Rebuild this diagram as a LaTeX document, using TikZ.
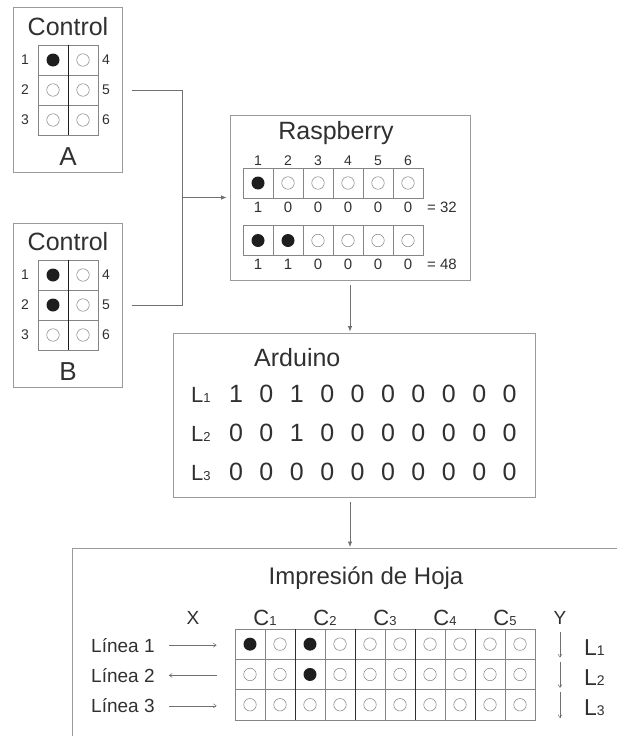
\documentclass[tikz,border=0pt]{standalone}
\usepackage{fontspec}
\setmainfont{Liberation Sans}
\usepackage{xcolor}
\usepackage{tikz}
\usetikzlibrary{arrows.meta}

\definecolor{txtgray}{HTML}{303030}
\definecolor{boxgray}{HTML}{9A9A9A}
\definecolor{gridgray}{HTML}{858585}
\definecolor{wiregray}{HTML}{707070}
\definecolor{dotblack}{HTML}{1E1E1E}
\newcommand{\fsz}[1]{\fontsize{#1}{#1}\selectfont}

\begin{document}
\begin{tikzpicture}[x=1pt, y=-1pt,
    panel/.style={draw=boxgray, line width=0.8pt, inner sep=0pt},
    cellbox/.style={draw=gridgray, line width=0.6pt, minimum size=30pt, inner sep=0pt},
    doton/.style={circle, fill=dotblack, inner sep=0pt, minimum size=13pt},
    dotoff/.style={circle, draw=gridgray, line width=0.55pt, inner sep=0pt, minimum size=12.5pt},
    txt/.style={text=txtgray, inner sep=0pt},
    title/.style={txt, font=\fsz{25}},
    wire/.style={draw=wiregray, line width=0.8pt},
    flow/.style={wire, -{Latex[length=5.5pt, width=4.5pt]}},
    thinarr/.style={draw=wiregray, line width=0.5pt, -{Straight Barb[length=3pt, width=4pt]}},
    darkline/.style={draw=dotblack, line width=0.7pt}]
  \useasboundingbox (0,0) rectangle (617,736);

  % Control A
  \node[panel, minimum width=109pt, minimum height=165pt] (ctrlA) at (67.5,89.5) {};
  \node[title] (titA) at (68,27) {Control};
  \foreach \r in {1,2,3}
    \foreach \c in {1,2}
      \node[cellbox] (a-\r-\c) at ({23+30*\c},{30+30*\r}) {};
  \draw[darkline] (a-1-1.north east) -- (a-3-1.south east);
  \foreach \r/\n/\m in {1/1/4, 2/2/5, 3/3/6} {
    \node[txt, font=\fsz{14}] (a\n) at (25,{30+30*\r}) {\n};
    \node[txt, font=\fsz{14}] (a\m) at (106,{30+30*\r}) {\m};
  }
  \node[doton] at (a-1-1) {};
  \foreach \p in {a-1-2, a-2-1, a-2-2, a-3-1, a-3-2}
    \node[dotoff] at (\p) {};
  \node[title, font=\fsz{26}] (letA) at (68,157) {A};

  % Control B
  \node[panel, minimum width=109pt, minimum height=164pt] (ctrlB) at (67.5,305) {};
  \node[title] (titB) at (68,242) {Control};
  \foreach \r in {1,2,3}
    \foreach \c in {1,2}
      \node[cellbox] (b-\r-\c) at ({23+30*\c},{245+30*\r}) {};
  \draw[darkline] (b-1-1.north east) -- (b-3-1.south east);
  \foreach \r/\n/\m in {1/1/4, 2/2/5, 3/3/6} {
    \node[txt, font=\fsz{14}] (b\n) at (25,{245+30*\r}) {\n};
    \node[txt, font=\fsz{14}] (b\m) at (106,{245+30*\r}) {\m};
  }
  \foreach \p in {b-1-1, b-2-1}
    \node[doton] at (\p) {};
  \foreach \p in {b-1-2, b-2-2, b-3-1, b-3-2}
    \node[dotoff] at (\p) {};
  \node[title, font=\fsz{26}] (letB) at (68,372) {B};

  % Raspberry
  \node[panel, minimum width=240pt, minimum height=165pt] (rasp) at (350,197.5) {};
  \node[title] (titR) at (336,133) {Raspberry};
  \foreach \c in {1,...,6}
    \node[txt, font=\fsz{14}] (rn\c) at ({228+30*\c},161) {\c};
  \foreach \bits/\ry/\sum [count=\r] in {{1,0,0,0,0,0}/183/32, {1,1,0,0,0,0}/240.5/48} {
    \foreach \b [count=\c] in \bits {
      \node[cellbox] (r-\r-\c) at ({228+30*\c},\ry) {};
      \ifnum\b=1 \node[doton] at (r-\r-\c) {}; \else \node[dotoff] at (r-\r-\c) {}; \fi
      \node[txt, font=\fsz{15}] (rb-\r-\c) at ({228+30*\c},\ry+24) {\b};
    }
    \node[txt, font=\fsz{15}, anchor=west] (sum\r) at (427,\ry+24) {= \sum};
  }

  % Arduino
  \node[panel, minimum width=362pt, minimum height=164pt] (ardu) at (354,415) {};
  \node[title, anchor=west] (titD) at (254,358) {Arduino};
  \foreach \bits/\ry [count=\r] in {{1,0,1,0,0,0,0,0,0,0}/394,
                                    {0,0,1,0,0,0,0,0,0,0}/433,
                                    {0,0,0,0,0,0,0,0,0,0}/472} {
    \node[txt, font=\fsz{22}, anchor=west] (dl\r) at (191,\ry+1) {L{\fsz{13}\r}};
    \foreach \b [count=\c] in \bits
      \node[txt, font=\fsz{25}] (d-\r-\c) at ({205.6+30.4*\c},\ry) {\b};
  }

  % Impresion de Hoja
  \node[panel, anchor=north west, minimum width=600pt, minimum height=230pt] (hoja) at (72,548) {};
  \node[title, font=\fsz{24}] (titH) at (366,578) {Impresión de Hoja};
  \node[txt, font=\fsz{19}] (xlab) at (193,618) {X};
  \node[txt, font=\fsz{19}] (ylab) at (560,618) {Y};
  \foreach \k in {1,...,5}
    \node[txt, font=\fsz{22}] (ck\k) at ({205+60*\k},618) {C{\fsz{13}\k}};
  \foreach \r in {1,2,3}
    \foreach \c in {1,...,10} {
      \node[cellbox, minimum height=30.3pt] (h-\r-\c) at ({220+30*\c},{613.85+30.3*\r}) {};
      \pgfmathtruncatemacro{\on}{(\r==1 && (\c==1 || \c==3)) || (\r==2 && \c==3) ? 1 : 0}
      \ifnum\on=1 \node[doton] at (h-\r-\c) {}; \else \node[dotoff] at (h-\r-\c) {}; \fi
    }
  \foreach \c in {2,4,6,8}
    \draw[darkline, draw=txtgray] (h-1-\c.north east) -- (h-3-\c.south east);
  \foreach \r in {1,2,3} {
    \node[txt, font=\fsz{19}, anchor=west] (lin\r) at (91,{614.85+30.3*\r}) {Línea \r};
    \node[txt, font=\fsz{23}, anchor=west] (ll\r) at (584,{616.85+30.3*\r}) {L{\fsz{14}\r}};
    \draw[thinarr, shorten <=3pt, shorten >=2pt] (ylab |- h-\r-1.north) -- (ylab |- h-\r-1.south);
  }
  \draw[thinarr, shorten <=14pt, shorten >=18pt] (lin1.east) -- (lin1.east -| h-1-1.west);
  \draw[thinarr, shorten <=18pt, shorten >=14pt] (lin2.east -| h-2-1.west) -- (lin2.east);
  \draw[thinarr, shorten <=14pt, shorten >=18pt] (lin3.east) -- (lin3.east -| h-3-1.west);

  % Connectors
  \coordinate (jn) at ([xshift=-47pt]rasp.west);
  \draw[wire, shorten <=10pt] (ctrlA.east |- a5) -| (jn);
  \draw[wire, shorten <=10pt] (ctrlB.east |- b5) -| (jn);
  \draw[flow, shorten >=3pt] (jn) -- (rasp.west);
  \draw[flow, shorten <=5pt, shorten >=1pt] (rasp.south) -- (rasp.south |- ardu.north);
  \draw[flow, shorten <=5pt, shorten >=1pt] (rasp.south |- ardu.south) -- (rasp.south |- hoja.north);
\end{tikzpicture}
\end{document}
